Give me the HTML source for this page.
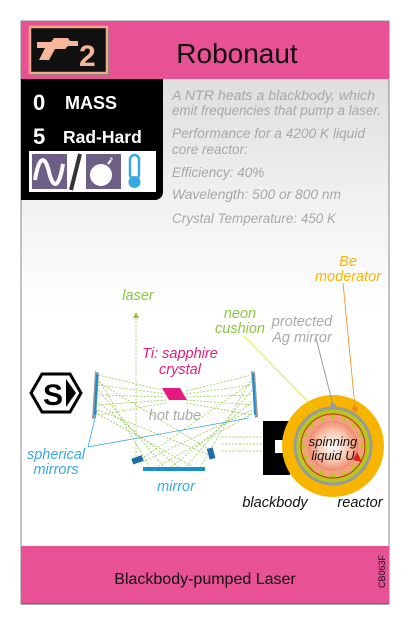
<!DOCTYPE html>
<html><head><meta charset="utf-8"><style>
body{margin:0;background:#fff;width:410px;height:626px;overflow:hidden}
svg{display:block}
text{font-family:"Liberation Sans",sans-serif}
</style></head><body>
<svg width="410" height="626" viewBox="0 0 410 626">
<defs>
<linearGradient id="bg" x1="0" y1="0" x2="0" y2="1"><stop offset="0" stop-color="#dedede"/><stop offset="0.5" stop-color="#f0f0f0"/><stop offset="1" stop-color="#fff"/></linearGradient>
<radialGradient id="core"><stop offset="0" stop-color="#fff"/><stop offset="0.6" stop-color="#f8c8b0"/><stop offset="1" stop-color="#f08a70"/></radialGradient>
</defs>
<rect x="21" y="21" width="368" height="583" fill="#fff" stroke="#888" stroke-width="1"/>
<rect x="21.5" y="79" width="367" height="230" fill="url(#bg)"/>
<rect x="21" y="21" width="368" height="58" fill="#e85295"/>
<rect x="32" y="29" width="77" height="46" fill="#777"/>
<rect x="30" y="27" width="77" height="46" fill="#111" stroke="#f2a98a" stroke-width="2.5"/>
<path d="M37 42h14l3-4h14l2 3h8v5h-10l-3 3h-10l-6 11h-10l6-12h-8z" fill="#f4b79b"/>
<text x="79" y="66" font-size="30" font-weight="bold" fill="#f4b79b">2</text>
<text x="237" y="63" font-size="28" fill="#111" text-anchor="middle">Robonaut</text>
<path d="M21 79h142v113a8 8 0 0 1-8 8h-134z" fill="#000"/>
<text x="33" y="110" font-size="22" font-weight="bold" fill="#fff">0</text>
<text x="65" y="109" font-size="18" font-weight="bold" fill="#fff">MASS</text>
<text x="33" y="144" font-size="22" font-weight="bold" fill="#fff">5</text>
<text x="63" y="143" font-size="17.5" font-weight="bold" fill="#fff">Rad-Hard</text>
<rect x="29" y="151" width="127" height="41" fill="#fff"/>
<rect x="32" y="154" width="35" height="35" fill="#6e5f86"/>
<path d="M35 180c4-25 10-25 14-8s10 17 14-8" stroke="#fff" stroke-width="4" fill="none"/>
<line x1="80" y1="154" x2="71" y2="190" stroke="#333" stroke-width="4"/>
<rect x="86" y="154" width="35" height="35" fill="#6e5f86"/>
<circle cx="101" cy="175" r="11" fill="#fff"/><path d="M108 164l3-4" stroke="#fff" stroke-width="2"/><text x="110" y="163" font-size="8" fill="#fff">*</text>
<rect x="130" y="155" width="9" height="24" rx="4.5" fill="none" stroke="#3aa9e0" stroke-width="2.5"/><circle cx="134.5" cy="182" r="6" fill="#3aa9e0"/>
<g font-size="13.5" font-style="italic" fill="#a8a8a8">
<text x="172" y="100" textLength="203" lengthAdjust="spacingAndGlyphs">A NTR heats a blackbody, which</text>
<text x="172" y="115" textLength="209" lengthAdjust="spacingAndGlyphs">emit frequencies that pump a laser.</text>
<text x="172" y="138" textLength="193" lengthAdjust="spacingAndGlyphs">Performance for a 4200 K liquid</text>
<text x="172" y="154">core reactor:</text>
<text x="172" y="177">Efficiency: 40%</text>
<text x="172" y="199" textLength="169" lengthAdjust="spacingAndGlyphs">Wavelength: 500 or 800 nm</text>
<text x="172" y="223" textLength="164" lengthAdjust="spacingAndGlyphs">Crystal Temperature: 450 K</text>
</g>
<!-- beams -->
<g stroke="#8cc63f" stroke-width="0.7" stroke-dasharray="2 1.5" fill="none">
<path d="M98 375L166 391M98 385L166 394M98 395L166 397M98 405L166 400M98 415L166 403"/>
<path d="M186 391L252 375M186 394L252 385M186 397L252 395M186 400L252 405M186 403L252 415"/>
<path d="M98 378L150 468M98 390L165 468M98 402L180 468M98 414L195 468"/>
<path d="M252 378L200 468M252 390L185 468M252 402L170 468M252 414L155 468"/>
<path d="M98 382L210 450M252 382L140 460M98 410L210 455M252 410L140 463"/>
<path d="M136 460V315"/>
<path d="M262 437H220M262 444H220M262 451H220"/>
</g>
<path d="M133 318l3-6 3 6z" fill="#8cc63f"/>
<line x1="88" y1="447" x2="249" y2="418" stroke="#3aa9e0" stroke-width="0.8"/>
<line x1="88" y1="447" x2="97" y2="410" stroke="#3aa9e0" stroke-width="0.8"/>
<path d="M95 371l4 2-3 45-4 1z" fill="#999"/><path d="M96 374l2 1-2 40-2 0z" fill="#1b8ccc"/>
<path d="M251 371l4 1 3 45-3 1z" fill="#999"/><path d="M252 374l2 0 2 40-2 1z" fill="#1b8ccc"/>
<path d="M162 388h18l7 12h-18z" fill="#e5197e"/>
<rect x="132" y="457" width="11" height="6" fill="#1b6fa8" transform="rotate(-20 137 460)"/>
<rect x="208" y="448" width="6" height="11" fill="#1b6fa8" transform="rotate(-15 211 453)"/>
<rect x="143" y="467" width="62" height="4" fill="#1b8ccc"/>
<path d="M31 393l11-19h28l11 19-11 19h-28z" fill="#fff" stroke="#000" stroke-width="3"/>
<text x="53" y="405" font-size="30" font-weight="bold" fill="#000" text-anchor="middle">S</text>
<path d="M66 379l10 14-10 14z" fill="#000"/>
<!-- reactor -->
<path d="M263 421h27v54h-27zM275 440h15v13h-15z" fill="#000" fill-rule="evenodd"/>
<circle cx="333" cy="446" r="51" fill="#f8b500"/>
<circle cx="333" cy="446" r="38" fill="#b5c91d" stroke="#9a9a9a" stroke-width="3"/>
<circle cx="333" cy="446" r="31" fill="#f3a080"/>
<g fill="#b5c91d" transform="translate(333 446)">
<path id="sp" d="M-4 -33L4 -33L0 -26z"/>
<use href="#sp" transform="rotate(22.5)"/><use href="#sp" transform="rotate(45)"/><use href="#sp" transform="rotate(67.5)"/><use href="#sp" transform="rotate(90)"/><use href="#sp" transform="rotate(112.5)"/><use href="#sp" transform="rotate(135)"/><use href="#sp" transform="rotate(157.5)"/><use href="#sp" transform="rotate(180)"/><use href="#sp" transform="rotate(202.5)"/><use href="#sp" transform="rotate(225)"/><use href="#sp" transform="rotate(247.5)"/><use href="#sp" transform="rotate(270)"/><use href="#sp" transform="rotate(292.5)"/><use href="#sp" transform="rotate(315)"/><use href="#sp" transform="rotate(337.5)"/>
</g>
<circle cx="333" cy="446" r="25" fill="url(#core)"/>
<circle cx="333" cy="446" r="32" fill="none" stroke="#e02020" stroke-width="1"/>
<circle cx="333" cy="406" r="3" fill="#999"/>
<circle cx="355" cy="409" r="3" fill="#f08a20"/>
<path d="M357 452l5 10-9-2z" fill="#e02020"/>
<line x1="244" y1="336" x2="316" y2="410" stroke="#dede20" stroke-width="0.8"/>
<line x1="316" y1="338" x2="333" y2="405" stroke="#999" stroke-width="1"/>
<line x1="343" y1="283" x2="355" y2="407" stroke="#f08a20" stroke-width="0.8"/>
<g font-style="italic" font-size="14.5">
<text x="138" y="300" fill="#8cc63f" text-anchor="middle">laser</text>
<text x="180" y="358" fill="#e5197e" text-anchor="middle">Ti: sapphire</text>
<text x="180" y="374" fill="#e5197e" text-anchor="middle">crystal</text>
<text x="175" y="420" fill="#aaa" text-anchor="middle">hot tube</text>
<text x="56" y="459" fill="#3aa9e0" text-anchor="middle">spherical</text>
<text x="56" y="474" fill="#3aa9e0" text-anchor="middle">mirrors</text>
<text x="176" y="491" fill="#3aa9e0" text-anchor="middle">mirror</text>
<text x="240" y="318" fill="#8cc63f" text-anchor="middle">neon</text>
<text x="240" y="333" fill="#8cc63f" text-anchor="middle">cushion</text>
<text x="302" y="326" fill="#aaa" text-anchor="middle">protected</text>
<text x="302" y="342" fill="#aaa" text-anchor="middle">Ag mirror</text>
<text x="348" y="266" fill="#f8b500" text-anchor="middle">Be</text>
<text x="348" y="281" fill="#f8b500" text-anchor="middle">moderator</text>
<text x="275" y="507" fill="#111" text-anchor="middle">blackbody</text>
<text x="360" y="507" fill="#111" text-anchor="middle">reactor</text>
<text x="333" y="446" fill="#111" font-size="13" text-anchor="middle">spinning</text>
<text x="333" y="460" fill="#111" font-size="13" text-anchor="middle">liquid U</text>
</g>
<rect x="21" y="546" width="368" height="58" fill="#e85295"/>
<line x1="21" y1="604" x2="389" y2="604" stroke="#555"/>
<text x="205" y="584" font-size="16" fill="#111" text-anchor="middle">Blackbody-pumped Laser</text>
<text transform="translate(385,588) rotate(-90)" font-size="9" fill="#111">CB063F</text>
</svg>
</body></html>
